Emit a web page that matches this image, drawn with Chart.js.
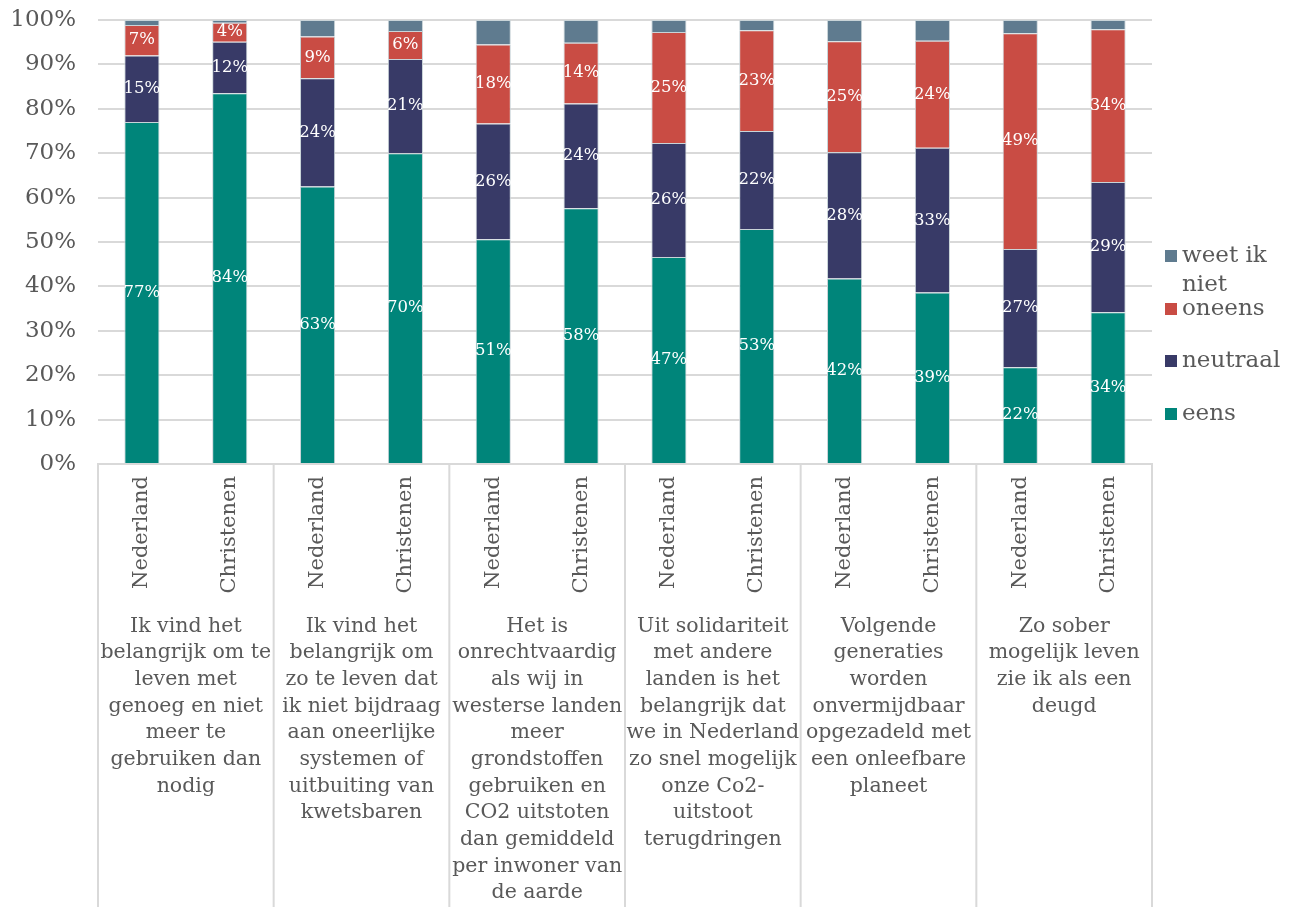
<!DOCTYPE html>
<html>
<head>
<meta charset="utf-8">
<script src="https://cdn.jsdelivr.net/npm/chart.js@4/dist/chart.umd.min.js"></script>
<style>
  html, body { margin: 0; padding: 0; background: #fff; }
  #wrap { width: 1300px; height: 907px; position: relative; }
</style>
</head>
<body>
<div id="wrap"><canvas id="chart"></canvas></div>
<script>
// categories
const groups = [
  ["Ik vind het", "belangrijk om te", "leven met", "genoeg en niet", "meer te", "gebruiken dan", "nodig"],
  ["Ik vind het", "belangrijk om", "zo te leven dat", "ik niet bijdraag", "aan oneerlijke", "systemen of", "uitbuiting van", "kwetsbaren"],
  ["Het is", "onrechtvaardig", "als wij in", "westerse landen", "meer", "grondstoffen", "gebruiken en", "CO2 uitstoten", "dan gemiddeld", "per inwoner van", "de aarde"],
  ["Uit solidariteit", "met andere", "landen is het", "belangrijk dat", "we in Nederland", "zo snel mogelijk", "onze Co2-", "uitstoot", "terugdringen"],
  ["Volgende", "generaties", "worden", "onvermijdbaar", "opgezadeld met", "een onleefbare", "planeet"],
  ["Zo sober", "mogelijk leven", "zie ik als een", "deugd"]
];
const subgroups = ["Nederland", "Christenen"];
const barLabels = groups.flatMap(() => subgroups);

// series values (%)
const eens     = [77.0, 83.5, 62.5, 70.0, 50.6, 57.6, 46.6, 52.9, 41.8, 38.6, 21.8, 34.2];
const neutraal = [15.0, 11.6, 24.4, 21.2, 26.1, 23.6, 25.7, 22.1, 28.4, 32.6, 26.6, 29.3];
const oneens   = [ 6.9,  4.3,  9.4,  6.3, 17.8, 13.7, 25.0, 22.7, 25.0, 24.1, 48.6, 34.4];
const weetNiet = [ 1.1,  0.6,  3.7,  2.5,  5.5,  5.1,  2.7,  2.3,  4.8,  4.7,  3.0,  2.1];

const yTicks = [0, 10, 20, 30, 40, 50, 60, 70, 80, 90, 100];

const SERIF = "'DejaVu Serif', serif";
const GREY_TEXT = "#595959";
const GRID = "#d9d9d9";

// white % labels inside the segments
const segmentLabels = {
  id: "segmentLabels",
  afterDatasetsDraw(chart) {
    const { ctx } = chart;
    ctx.save();
    ctx.fillStyle = "#ffffff";
    ctx.font = "16.5px " + SERIF;
    ctx.textAlign = "center";
    ctx.textBaseline = "middle";
    chart.data.datasets.forEach((ds, i) => {
      if (!ds.showValues) return;
      chart.getDatasetMeta(i).data.forEach((bar, j) => {
        const { x, y, base } = bar.getProps(["x", "y", "base"], true);
        ctx.fillText(Math.round(ds.data[j]) + "%", x, (y + base) / 2);
      });
    });
    ctx.restore();
  }
};

// vertical separators between the question groups, below the plot
const groupLines = {
  id: "groupLines",
  afterDraw(chart) {
    const { ctx, chartArea } = chart;
    const xs = chart.scales.x;
    ctx.save();
    ctx.strokeStyle = GRID;
    ctx.lineWidth = 2;
    for (let g = 0; g <= groups.length; g++) {
      let px;
      if (g === 0) px = chartArea.left;
      else if (g === groups.length) px = chartArea.right;
      else px = (xs.getPixelForValue(g * 2 - 1) + xs.getPixelForValue(g * 2)) / 2;
      ctx.beginPath();
      ctx.moveTo(px, chartArea.bottom);
      ctx.lineTo(px, chart.height);
      ctx.stroke();
    }
    ctx.restore();
  }
};

// legend on the right, top series first, long names wrapped
const sideLegend = {
  id: "sideLegend",
  afterDraw(chart) {
    const { ctx, chartArea } = chart;
    const rowY = [256, 309, 361, 414];
    const x0 = chartArea.right + 13;
    ctx.save();
    ctx.font = "23px " + SERIF;
    ctx.textBaseline = "middle";
    const sets = chart.data.datasets.slice().reverse();
    sets.forEach((ds, i) => {
      const y = rowY[i];
      ctx.fillStyle = ds.backgroundColor;
      ctx.fillRect(x0, y - 6, 12, 12);
      ctx.fillStyle = GREY_TEXT;
      // wrap to the space left of the canvas edge
      const words = ds.label.split(" ");
      const lines = [];
      let cur = "";
      words.forEach((w) => {
        const t = cur ? cur + " " + w : w;
        if (cur && ctx.measureText(t).width > chart.width - x0 - 22) {
          lines.push(cur);
          cur = w;
        } else cur = t;
      });
      lines.push(cur);
      lines.forEach((l, k) => ctx.fillText(l, x0 + 17, y + k * 29));
    });
    ctx.restore();
  }
};

new Chart(document.getElementById("chart"), {
  type: "bar",
  data: {
    labels: barLabels,
    datasets: [
      { label: "eens", data: eens, backgroundColor: "#00857a", showValues: true },
      { label: "neutraal", data: neutraal, backgroundColor: "#383a67", showValues: true },
      { label: "oneens", data: oneens, backgroundColor: "#c94c44", showValues: true },
      { label: "weet ik niet", data: weetNiet, backgroundColor: "#5f7b8f", showValues: false }
    ]
  },
  options: {
    responsive: true,
    maintainAspectRatio: false,
    animation: false,
    layout: { padding: { top: 20, right: 148, left: 0, bottom: 0 } },
    datasets: {
      bar: {
        barPercentage: 0.4,
        categoryPercentage: 1,
        borderWidth: 1,
        borderColor: "#c9d4d8",
        borderSkipped: "start"
      }
    },
    plugins: {
      legend: { display: false },
      tooltip: { enabled: false }
    },
    scales: {
      x: {
        stacked: true,
        weight: 0,
        grid: { display: false, drawTicks: false },
        border: { display: true, color: GRID, width: 2 },
        ticks: {
          minRotation: 90,
          maxRotation: 90,
          autoSkip: false,
          padding: 12,
          color: GREY_TEXT,
          font: { family: SERIF, size: 21 }
        },
        afterFit(s) { s.height = 140; }
      },
      x2: {
        type: "category",
        labels: groups,
        position: "bottom",
        offset: true,
        weight: 1,
        grid: { display: false, drawTicks: false },
        border: { display: false },
        ticks: {
          maxRotation: 0,
          minRotation: 0,
          autoSkip: false,
          padding: 9,
          color: GREY_TEXT,
          font: { family: SERIF, size: 20.5, lineHeight: 1.3 }
        },
        afterFit(s) { s.height = 303; }
      },
      y: {
        stacked: true,
        min: 0,
        max: 100,
        afterBuildTicks(s) { s.ticks = yTicks.map((v) => ({ value: v })); },
        grid: { color: GRID, lineWidth: 2, drawTicks: true, tickLength: 22, tickColor: "rgba(0,0,0,0)" },
        border: { display: false },
        ticks: {
          padding: 0,
          color: GREY_TEXT,
          font: { family: SERIF, size: 23 },
          callback: (v) => v + "%"
        },
        afterFit(s) { s.width = 98; }
      }
    }
  },
  plugins: [segmentLabels, groupLines, sideLegend]
});
</script>
</body>
</html>
